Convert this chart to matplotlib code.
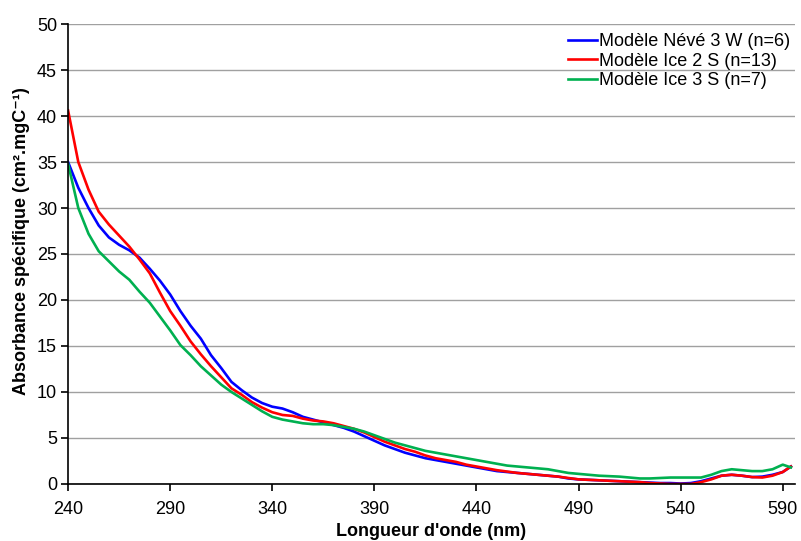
import matplotlib
matplotlib.use("Agg")
import matplotlib.pyplot as plt

plt.rcParams["font.family"] = ["Liberation Sans", "DejaVu Sans"]

# Wavelengths (nm)
wl = [240, 245, 250, 255, 260, 265, 270, 275, 280, 285, 290, 295, 300, 305,
      310, 315, 320, 325, 330, 335, 340, 345, 350, 355, 360, 365, 370, 375,
      380, 385, 390, 395, 400, 405, 410, 415, 420, 425, 430, 435, 440, 445,
      450, 455, 460, 465, 470, 475, 480, 485, 490, 495, 500, 505, 510, 515,
      520, 525, 530, 535, 540, 545, 550, 555, 560, 565, 570, 575, 580, 585,
      590, 594]

neve_3w = [35.0, 32.2, 30.0, 28.1, 26.8, 26.0, 25.4, 24.6, 23.4, 22.1, 20.6,
           18.8, 17.2, 15.8, 14.0, 12.6, 11.1, 10.2, 9.4, 8.8, 8.4, 8.2, 7.8,
           7.3, 7.0, 6.7, 6.4, 6.1, 5.7, 5.2, 4.7, 4.2, 3.8, 3.4, 3.1, 2.8,
           2.6, 2.4, 2.2, 2.0, 1.8, 1.6, 1.4, 1.3, 1.2, 1.1, 1.0, 0.9, 0.8,
           0.6, 0.5, 0.45, 0.4, 0.35, 0.3, 0.25, 0.2, 0.15, 0.1, 0.1, 0.05,
           0.1, 0.3, 0.6, 0.9, 1.0, 0.9, 0.75, 0.8, 1.0, 1.3, 1.9]

ice_2s = [40.6, 35.0, 32.0, 29.6, 28.2, 27.0, 25.8, 24.4, 22.9, 20.8, 18.8,
          17.2, 15.5, 14.1, 12.8, 11.6, 10.4, 9.7, 8.9, 8.3, 7.8, 7.5, 7.4,
          7.1, 6.9, 6.8, 6.6, 6.3, 6.0, 5.6, 5.1, 4.6, 4.2, 3.8, 3.5, 3.1,
          2.8, 2.6, 2.4, 2.1, 1.9, 1.7, 1.5, 1.35, 1.2, 1.1, 1.0, 0.9, 0.8,
          0.65, 0.5, 0.45, 0.4, 0.35, 0.3, 0.25, 0.2, 0.1, 0.05, 0.0, 0.0,
          0.0, 0.2, 0.5, 0.9, 1.0, 0.9, 0.75, 0.7, 0.9, 1.3, 1.9]

ice_3s = [34.8, 30.0, 27.2, 25.3, 24.2, 23.1, 22.2, 20.9, 19.7, 18.2, 16.7,
          15.1, 14.0, 12.8, 11.8, 10.8, 10.0, 9.3, 8.6, 7.9, 7.3, 7.0, 6.8,
          6.6, 6.5, 6.5, 6.4, 6.2, 6.0, 5.7, 5.3, 4.9, 4.5, 4.2, 3.9, 3.6,
          3.4, 3.2, 3.0, 2.8, 2.6, 2.4, 2.2, 2.0, 1.9, 1.8, 1.7, 1.6, 1.4,
          1.2, 1.1, 1.0, 0.9, 0.85, 0.8, 0.7, 0.6, 0.6, 0.65, 0.7, 0.7, 0.7,
          0.7, 1.0, 1.4, 1.6, 1.5, 1.4, 1.4, 1.6, 2.1, 1.8]

labels = ["Modèle Névé 3 W (n=6)", "Modèle Ice 2 S (n=13)", "Modèle Ice 3 S (n=7)"]
colors = ["#0000FF", "#FF0000", "#00B050"]

x_ticks = [240, 290, 340, 390, 440, 490, 540, 590]
y_ticks = [0, 5, 10, 15, 20, 25, 30, 35, 40, 45, 50]

fig = plt.figure(figsize=(8.01, 5.41), dpi=100)
ax = fig.add_axes([0.085, 0.1054, 0.9075, 0.8502])

for series, label, color in zip([neve_3w, ice_2s, ice_3s], labels, colors):
    ax.plot(wl, series, color=color, lw=1.9, label=label)

ax.set_xlim(240, 596)
ax.set_ylim(0, 50)
ax.set_xticks(x_ticks)
ax.set_yticks(y_ticks)
ax.grid(axis="y", color="#a0a0a0", lw=1.0)
ax.set_axisbelow(True)
for side in ["top", "right"]:
    ax.spines[side].set_visible(False)
for side in ["left", "bottom"]:
    ax.spines[side].set_linewidth(1.2)
ax.tick_params(axis="both", direction="out", length=5, width=1.2, labelsize=13)
ax.tick_params(axis="x", pad=7)
ax.tick_params(axis="y", pad=3)

ax.set_xlabel("Longueur d'onde (nm)", fontsize=13, fontweight="bold", labelpad=4)
ax.set_ylabel("Absorbance spécifique (cm².mgC⁻¹)", fontsize=13, fontweight="bold")
ax.yaxis.set_label_coords(-0.052, 0.528)

ax.legend(loc="upper right", bbox_to_anchor=(790 / 801, 1 - 33 / 541),
          bbox_transform=fig.transFigure, frameon=False, fontsize=13,
          handlelength=1.6, handletextpad=0.1, labelspacing=0.15, borderaxespad=0.0,
          borderpad=0.0)

fig.savefig("out.png", dpi=100)
